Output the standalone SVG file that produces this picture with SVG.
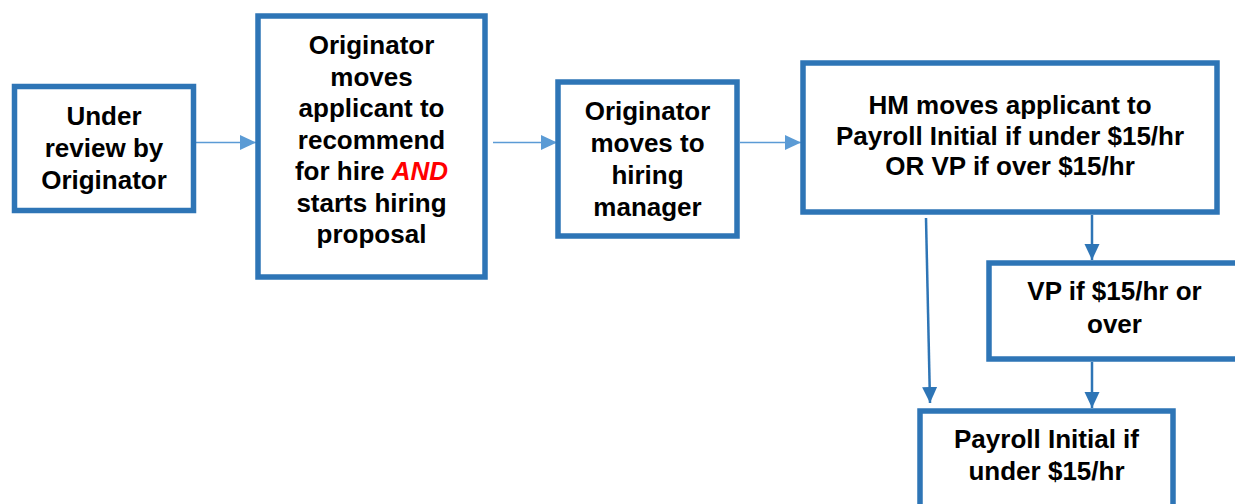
<svg xmlns="http://www.w3.org/2000/svg" width="1235" height="504" viewBox="0 0 1235 504">
<defs>
<marker id="ah-light" markerUnits="userSpaceOnUse" markerWidth="16" markerHeight="16" viewBox="0 0 16 16" refX="16" refY="8" orient="auto">
<path d="M0,0.5 L16,8 L0,15.5 Z" fill="#5B9BD5"/>
</marker>
<marker id="ah-dark" markerUnits="userSpaceOnUse" markerWidth="16" markerHeight="16" viewBox="0 0 16 16" refX="16" refY="8" orient="auto">
<path d="M0,0.5 L16,8 L0,15.5 Z" fill="#2E75B6"/>
</marker>
</defs>
<style>
.box{fill:#FFFFFF;stroke:#2E75B6;stroke-width:5.5}
.t{font-family:"Liberation Sans",Arial,sans-serif;font-weight:bold;font-size:26px;fill:#000000;text-anchor:middle}
.red{fill:#FF0000;font-style:italic}
.cl{stroke:#5B9BD5;stroke-width:1.5;fill:none}
.cd{stroke:#2E75B6;stroke-width:2.5;fill:none}
</style>
<rect width="1235" height="504" fill="#FFFFFF"/>
<g id="connectors">
<line class="cl" x1="196" y1="142.5" x2="256" y2="142.5" marker-end="url(#ah-light)"/>
<line class="cl" x1="493" y1="142.5" x2="557" y2="142.5" marker-end="url(#ah-light)"/>
<line class="cl" x1="740" y1="142.5" x2="801" y2="142.5" marker-end="url(#ah-light)"/>
<line class="cd" x1="1092" y1="215" x2="1092" y2="260" marker-end="url(#ah-dark)"/>
<line class="cd" x1="1092" y1="362" x2="1092" y2="408" marker-end="url(#ah-dark)"/>
<line class="cd" x1="926" y1="218" x2="930" y2="403" marker-end="url(#ah-dark)"/>
</g>
<g id="node-review">
<rect class="box" x="14.5" y="86.5" width="179" height="124"/>
<text class="t" x="104" y="125">Under</text>
<text class="t" x="104" y="157">review by</text>
<text class="t" x="104" y="189">Originator</text>
</g>
<g id="node-recommend">
<rect class="box" x="258" y="16" width="227" height="261"/>
<text class="t" x="371.5" y="54">Originator</text>
<text class="t" x="371.5" y="85.5">moves</text>
<text class="t" x="371.5" y="117">applicant to</text>
<text class="t" x="371.5" y="148.5">recommend</text>
<text class="t" x="371.5" y="180">for hire <tspan class="red">AND</tspan></text>
<text class="t" x="371.5" y="211.5">starts hiring</text>
<text class="t" x="371.5" y="243">proposal</text>
</g>
<g id="node-hiring-manager">
<rect class="box" x="558" y="82" width="179" height="154"/>
<text class="t" x="647.5" y="120">Originator</text>
<text class="t" x="647.5" y="152">moves to</text>
<text class="t" x="647.5" y="184">hiring</text>
<text class="t" x="647.5" y="216">manager</text>
</g>
<g id="node-hm">
<rect class="box" x="803" y="63" width="414" height="149"/>
<text class="t" x="1010" y="114">HM moves applicant to</text>
<text class="t" x="1010" y="145">Payroll Initial if under $15/hr</text>
<text class="t" x="1010" y="175">OR VP if over $15/hr</text>
</g>
<g id="node-vp">
<rect class="box" x="989" y="263" width="251" height="96"/>
<text class="t" x="1114.5" y="300">VP if $15/hr or</text>
<text class="t" x="1114.5" y="333">over</text>
</g>
<g id="node-payroll">
<rect class="box" x="920" y="411" width="253" height="100"/>
<text class="t" x="1046.5" y="448">Payroll Initial if</text>
<text class="t" x="1046.5" y="480">under $15/hr</text>
</g>
</svg>
